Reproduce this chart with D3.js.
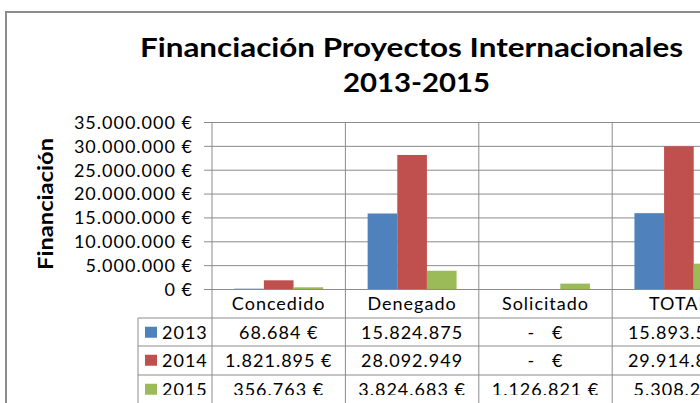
<!DOCTYPE html>
<html lang="es">
<head>
  <meta charset="UTF-8">
  <title>Financiación Proyectos Internacionales 2013-2015</title>
  <script src="https://d3js.org/d3.v7.min.js"></script>
  <style>
    body { margin: 0; background: #fff; }
    text { font-family: Lato, 'Open Sans', sans-serif; fill: #000; }
    .title { font-weight: bold; font-size: 27px; }
    .axis-title { font-weight: bold; font-size: 20px; }
    .cell { font-size: 18px; letter-spacing: 1px; white-space: pre; }
  </style>
</head>
<body>
  <script>
    // data
    var categories = ["Concedido", "Denegado", "Solicitado", "TOTAL"];
    var years = ["2013", "2014", "2015"];
    var values2013 = [68684, 15824875, 0, 15893559];
    var values2014 = [1821895, 28092949, 0, 29914844];
    var values2015 = [356763, 3824683, 1126821, 5308267];
    var cells2013 = ["68.684 €", "15.824.875", "-   €", "15.893.559"];
    var cells2014 = ["1.821.895 €", "28.092.949", "-   €", "29.914.844"];
    var cells2015 = ["356.763 €", "3.824.683 €", "1.126.821 €", "5.308.267"];
    var yTicks = [0, 5000000, 10000000, 15000000, 20000000, 25000000, 30000000, 35000000];
    var colors = ["#4F81BD", "#C0504D", "#9BBB59"];

    var series = [values2013, values2014, values2015];
    var cells = [cells2013, cells2014, cells2015];

    var width = 700, height = 403;
    var plotLeft = 212, plotTop = 122, plotBottom = 289;
    var catStep = 133.4;
    var rowTops = [318, 346, 375];
    var rowH = 28.5;
    var gridColor = "#8c8c8c";

    var svg = d3.select("body").append("svg")
      .attr("width", width)
      .attr("height", height);

    var fmt = function (d) {
      return d === 0 ? "0 €" : d3.format(",")(d).replace(/,/g, ".") + " €";
    };

    var x0 = d3.scaleBand()
      .domain(categories)
      .range([plotLeft, plotLeft + catStep * categories.length])
      .paddingInner(0).paddingOuter(0);

    var x1 = d3.scaleBand()
      .domain(years)
      .range([0, x0.bandwidth()])
      .paddingInner(0).paddingOuter(0.75);

    var y = d3.scaleLinear()
      .domain([0, 35000000])
      .range([plotBottom, plotTop]);

    // outer frame (cropped)
    svg.append("line")
      .attr("x1", 5).attr("x2", width).attr("y1", 12).attr("y2", 12)
      .attr("stroke", gridColor).attr("stroke-width", 2);
    svg.append("line")
      .attr("x1", 6).attr("x2", 6).attr("y1", 11).attr("y2", height)
      .attr("stroke", gridColor).attr("stroke-width", 2);

    // title (stretched like the Excel picture)
    svg.append("text").attr("class", "title")
      .attr("x", 140).attr("y", 57)
      .attr("textLength", 543)
      .attr("lengthAdjust", "spacingAndGlyphs")
      .text("Financiación Proyectos Internacionales");
    svg.append("text").attr("class", "title")
      .attr("x", 343).attr("y", 92)
      .attr("textLength", 147)
      .attr("lengthAdjust", "spacingAndGlyphs")
      .text("2013-2015");

    svg.append("text").attr("class", "axis-title")
      .attr("transform", "translate(53,270)rotate(-90)")
      .attr("textLength", 132)
      .attr("lengthAdjust", "spacingAndGlyphs")
      .text("Financiación");

    // horizontal gridlines + y axis
    var yAxis = d3.axisLeft(y)
      .tickValues(yTicks)
      .tickSize(8)
      .tickFormat(fmt);

    var gy = svg.append("g")
      .attr("transform", "translate(" + plotLeft + ",0)")
      .call(yAxis);
    gy.select(".domain").remove();
    gy.selectAll(".tick line").attr("stroke", gridColor)
      .attr("x2", width - plotLeft).attr("x1", -8);
    gy.selectAll(".tick text")
      .attr("class", "cell")
      .attr("x", -19)
      .attr("dy", "0.35em")
      .attr("font-family", null)
      .attr("font-size", null);
    gy.attr("font-family", null).attr("font-size", null);

    // vertical category lines, running down through the table
    svg.selectAll(".vline")
      .data(categories)
      .enter().append("line")
      .attr("class", "vline")
      .attr("x1", function (d) { return x0(d); })
      .attr("x2", function (d) { return x0(d); })
      .attr("y1", plotTop)
      .attr("y2", height)
      .attr("stroke", gridColor);

    // table horizontal lines
    svg.selectAll(".hline")
      .data(rowTops)
      .enter().append("line")
      .attr("class", "hline")
      .attr("x1", 138).attr("x2", width)
      .attr("y1", function (d) { return d; })
      .attr("y2", function (d) { return d; })
      .attr("stroke", gridColor);
    svg.append("line")
      .attr("x1", 138).attr("x2", 138)
      .attr("y1", rowTops[0]).attr("y2", height)
      .attr("stroke", gridColor);

    // bars
    var groups = svg.selectAll(".series")
      .data(series)
      .enter().append("g")
      .attr("class", "series")
      .attr("fill", function (d, i) { return colors[i]; });

    groups.selectAll("rect")
      .data(function (d, i) {
        return d.map(function (v, j) { return { cat: categories[j], year: years[i], value: v }; });
      })
      .enter().append("rect")
      .attr("x", function (d) { return x0(d.cat) + x1(d.year); })
      .attr("width", x1.bandwidth())
      .attr("y", function (d) { return y(d.value); })
      .attr("height", function (d) { return y(0) - y(d.value); });

    // category labels (first table row)
    svg.selectAll(".cat")
      .data(categories)
      .enter().append("text")
      .attr("class", "cell")
      .attr("x", function (d) { return x0(d) + x0.bandwidth() / 2; })
      .attr("y", (plotBottom + rowTops[0]) / 2)
      .attr("dy", "0.35em")
      .attr("text-anchor", "middle")
      .text(function (d) { return d; });

    // table body, clipped like the source
    svg.append("clipPath").attr("id", "tclip")
      .append("rect").attr("x", 0).attr("y", 0).attr("width", width).attr("height", 395);

    var rows = svg.append("g").attr("clip-path", "url(#tclip)")
      .selectAll(".row")
      .data(cells)
      .enter().append("g")
      .attr("class", "row")
      .attr("transform", function (d, i) { return "translate(0," + (rowTops[i] + rowH / 2) + ")"; });

    rows.append("rect")
      .attr("x", 145).attr("y", -5.5)
      .attr("width", 12).attr("height", 11)
      .attr("fill", function (d, i) { return colors[i]; });

    rows.append("text")
      .attr("class", "cell")
      .attr("x", 162).attr("dy", "0.35em")
      .text(function (d, i) { return years[i]; });

    rows.selectAll(".val")
      .data(function (d) { return d; })
      .enter().append("text")
      .attr("class", "cell val")
      .attr("x", function (d, j) { return x0(categories[j]) + x0.bandwidth() / 2; })
      .attr("dy", "0.35em")
      .attr("text-anchor", "middle")
      .text(function (d) { return d; });
  </script>
</body>
</html>
